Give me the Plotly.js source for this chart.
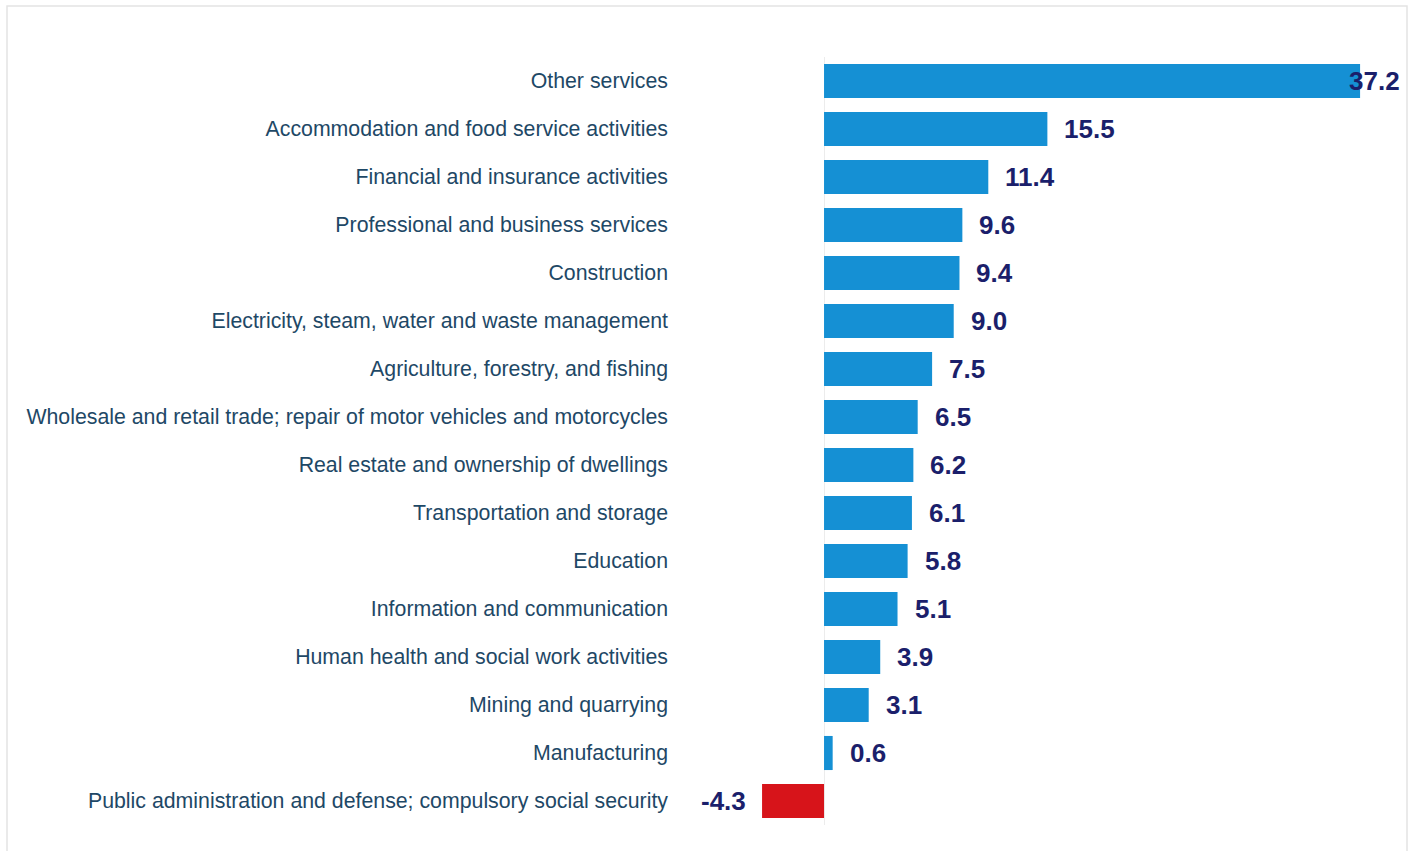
<!DOCTYPE html>
<html>
<head>
<meta charset="utf-8">
<script src="https://cdn.plot.ly/plotly-3.0.1.min.js"></script>
<style>
  html, body { margin: 0; padding: 0; background: #ffffff; }
  #chart { width: 1413px; height: 851px; }
</style>
</head>
<body>
<div id="chart"></div>
<script>
// Categories, top to bottom
const categories = [
  "Other services",
  "Accommodation and food service activities",
  "Financial and insurance activities",
  "Professional and business services",
  "Construction",
  "Electricity, steam, water and waste management",
  "Agriculture, forestry, and fishing",
  "Wholesale and retail trade; repair of motor vehicles and motorcycles",
  "Real estate and ownership of dwellings",
  "Transportation and storage",
  "Education",
  "Information and communication",
  "Human health and social work activities",
  "Mining and quarrying",
  "Manufacturing",
  "Public administration and defense; compulsory social security"
];
const values = [37.2, 15.5, 11.4, 9.6, 9.4, 9.0, 7.5, 6.5, 6.2, 6.1, 5.8, 5.1, 3.9, 3.1, 0.6, -4.3];

const posColor = "#1590d4";
const negColor = "#d7141a";
const labelColor = "#1b1f6b";
const catColor = "#1e4866";

const xMin = -10.55, xMax = 39.97;
const labelRoom = 4.3; // approx label width in data units

const colors = values.map(v => v >= 0 ? posColor : negColor);

const trace = {
  type: "bar",
  orientation: "h",
  x: values,
  y: categories,
  marker: { color: colors, line: { width: 0 } },
  hoverinfo: "skip"
};

const annotations = values.map((v, i) => {
  const txt = v.toFixed(1);
  const base = {
    y: categories[i], yref: "y",
    text: txt, showarrow: false,
    font: { family: "Liberation Sans, Arial, sans-serif", size: 26, color: labelColor, weight: "bold" },
    yanchor: "middle"
  };
  if (v < 0) {
    return Object.assign(base, { x: v, xref: "x", xanchor: "right", xshift: -14 });
  }
  if (v + labelRoom > xMax) {
    return Object.assign(base, { x: 1, xref: "paper", xanchor: "right", xshift: 2 });
  }
  return Object.assign(base, { x: v, xref: "x", xanchor: "left", xshift: 15 });
});

const layout = {
  width: 1413,
  height: 851,
  margin: { l: 672, r: 13, t: 57, b: 26 },
  paper_bgcolor: "#ffffff",
  plot_bgcolor: "#ffffff",
  showlegend: false,
  bargap: 0.29,
  xaxis: {
    range: [xMin, xMax],
    showgrid: false,
    zeroline: true,
    zerolinecolor: "#ececec",
    zerolinewidth: 1,
    showticklabels: false,
    ticks: "",
    fixedrange: true
  },
  yaxis: {
    autorange: "reversed",
    type: "category",
    showgrid: false,
    zeroline: false,
    ticks: "",
    ticklabelstandoff: 3,
    tickfont: { family: "Liberation Sans, Arial, sans-serif", size: 21.3, color: catColor },
    fixedrange: true
  },
  annotations: annotations,
  shapes: [
    {
      type: "rect", xref: "paper", yref: "paper",
      x0: -665 / 728, x1: 1 + 7 / 728,
      y0: -40 / 768, y1: 1 + 51 / 768,
      line: { color: "#e4e4e4", width: 1.5 },
      layer: "below"
    }
  ]
};

Plotly.newPlot("chart", [trace], layout, { displayModeBar: false, staticPlot: true });
</script>
</body>
</html>
